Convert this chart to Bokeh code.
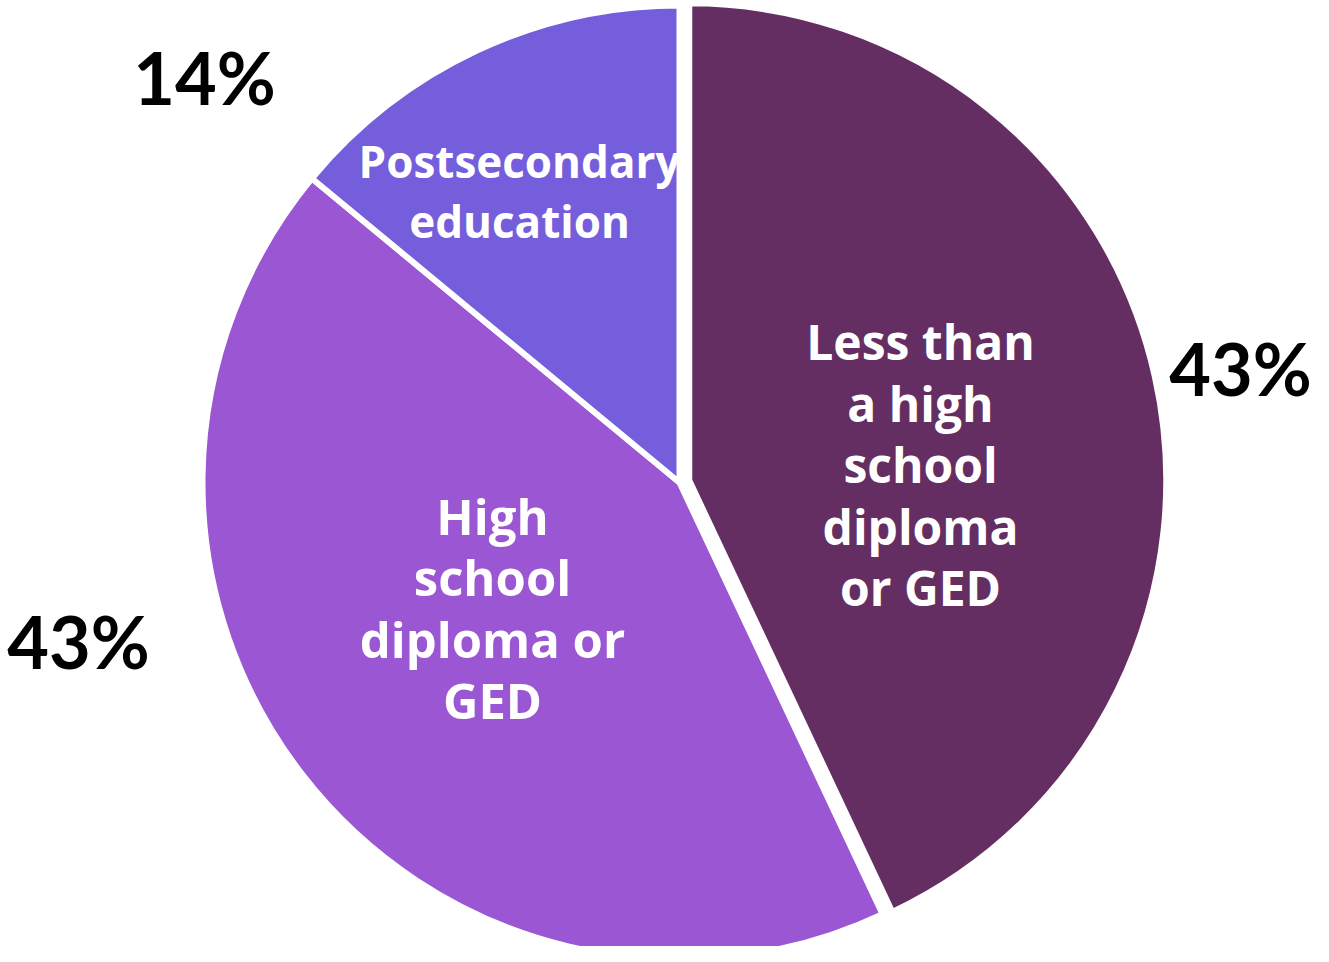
import math
from bokeh.plotting import figure
from bokeh.models import Range1d, ColumnDataSource
from bokeh.core.properties import value
from bokeh.embed import file_html
from bokeh.resources import INLINE

# ---- data ----
categories = ["Less than a high school diploma or GED",
              "High school diploma or GED",
              "Postsecondary education"]
shares = [43, 43, 14]
pct_labels = ["43%", "43%", "14%"]
colors = ["#642E63", "#9B57D3", "#755EDB"]
inner_lines = [["Less than", "a high", "school", "diploma", "or GED"],
               ["High", "school", "diploma or", "GED"],
               ["Postsecondary", "education"]]

# ---- layout ----
W, H = 1313, 946
cx, cy, R = 679, 464, 477
explode = [10, 0, 0]
inner_pos = [(920, 605), (492, 431), (519, 786)]
inner_size = ["48px", "49px", "44px"]
inner_gap = [61.5, 61.5, 60]
pct_pos = [(1240, 579), (78, 306), (204, 870)]
FONT_IN = "Open Sans"
FONT_PCT = "Lato"

p = figure(width=W, height=H, x_range=Range1d(0, W), y_range=Range1d(0, H),
           output_backend="svg", toolbar_location=None, min_border=0)
p.axis.visible = False
p.grid.visible = False
p.outline_line_color = None
p.background_fill_color = "white"

total = sum(shares)
xs, ys, starts, ends = [], [], [], []
cum = 0.0
for i, s in enumerate(shares):
    a0 = math.pi / 2 - 2 * math.pi * cum / total
    cum += s
    a1 = math.pi / 2 - 2 * math.pi * cum / total
    mid = (a0 + a1) / 2
    xs.append(cx + explode[i] * math.cos(mid))
    ys.append(cy + explode[i] * math.sin(mid))
    starts.append(a0)
    ends.append(a1)

src = ColumnDataSource(dict(x=xs, y=ys, start=starts, end=ends, color=colors,
                            cat=categories))
p.wedge(x="x", y="y", radius=R, start_angle="start", end_angle="end",
        direction="clock", fill_color="color", line_color="white",
        line_width=6, source=src)

# inner labels
for (x0, y0), lines, fs, gap in zip(inner_pos, inner_lines, inner_size, inner_gap):
    p.text(x=[x0] * len(lines), y=[y0 - k * gap for k in range(len(lines))],
           text=lines, text_color="white", text_font=value(FONT_IN),
           text_font_style="bold", text_font_size=fs, text_align="center",
           text_baseline="middle")

# percentage labels
p.text(x=[q[0] for q in pct_pos], y=[q[1] for q in pct_pos], text=pct_labels,
       text_color="black", text_font=value(FONT_PCT), text_font_style="bold",
       text_font_size="72px", text_align="center", text_baseline="middle")

open("out.html", "w").write(file_html(p, INLINE))
